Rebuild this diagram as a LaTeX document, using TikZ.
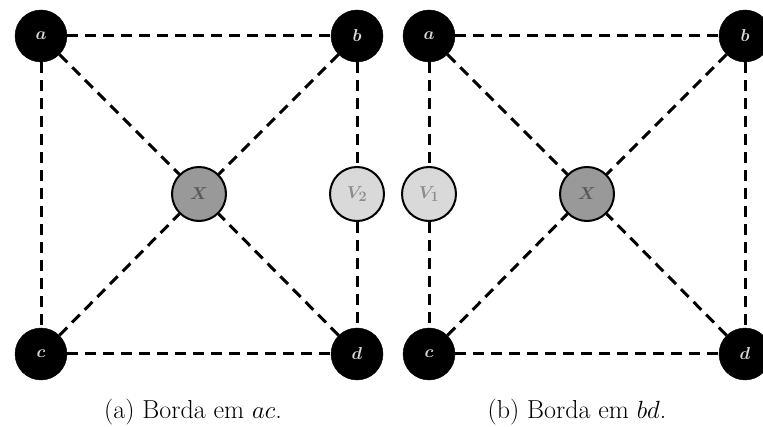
\documentclass[tikz,border=0pt]{standalone}
\begin{document}
\begin{tikzpicture}[x=1pt,y=-1pt,
  lbl/.style={font=\fontsize{19}{21}\selectfont\boldmath},
  blk/.style={lbl,circle,fill=black,draw=black,minimum size=52pt,inner sep=0pt,text=black!15},
  xnode/.style={lbl,circle,fill=black!40,draw=black,line width=2pt,minimum size=54pt,inner sep=0pt,text=black!65},
  vnode/.style={lbl,circle,fill=black!15,draw=black,line width=2pt,minimum size=54pt,inner sep=0pt,text=black!45},
  edge/.style={line width=3pt,dash pattern=on 11pt off 7pt},
  captxt/.style={font=\fontsize{26}{30}\selectfont,anchor=base}]
\useasboundingbox (0,0) rectangle (763,427);
\clip (0,0) rectangle (763,427);
% left panel
\node[blk] (a1) at (41,36) {$a$};
\node[blk] (b1) at (357,36) {$b$};
\node[blk] (c1) at (41,354) {$c$};
\node[blk] (d1) at (357,354) {$d$};
\node[xnode] (x1) at (199,194) {$X$};
\node[vnode] (v2) at (357,194) {$V_2$};
% right panel
\node[blk] (a2) at (429,36) {$a$};
\node[blk] (b2) at (745,36) {$b$};
\node[blk] (c2) at (429,354) {$c$};
\node[blk] (d2) at (745,354) {$d$};
\node[xnode] (x2) at (587,194) {$X$};
\node[vnode] (v1) at (429,194) {$V_1$};
\draw[edge] (a1) -- (b1);
\draw[edge] (a1) -- (c1);
\draw[edge] (c1) -- (d1);
\draw[edge] (b1) -- (v2);
\draw[edge] (v2) -- (d1);
\draw[edge] (a1) -- (x1);
\draw[edge] (b1) -- (x1);
\draw[edge] (c1) -- (x1);
\draw[edge] (d1) -- (x1);
\draw[edge] (a2) -- (b2);
\draw[edge] (b2) -- (d2);
\draw[edge] (c2) -- (d2);
\draw[edge] (a2) -- (v1);
\draw[edge] (v1) -- (c2);
\draw[edge] (a2) -- (x2);
\draw[edge] (b2) -- (x2);
\draw[edge] (c2) -- (x2);
\draw[edge] (d2) -- (x2);
\node[captxt] (capa) at (193,418) {(a) Borda em $ac$.};
\node[captxt] (capb) at (577,418) {(b) Borda em $bd$.};
\end{tikzpicture}
\end{document}
